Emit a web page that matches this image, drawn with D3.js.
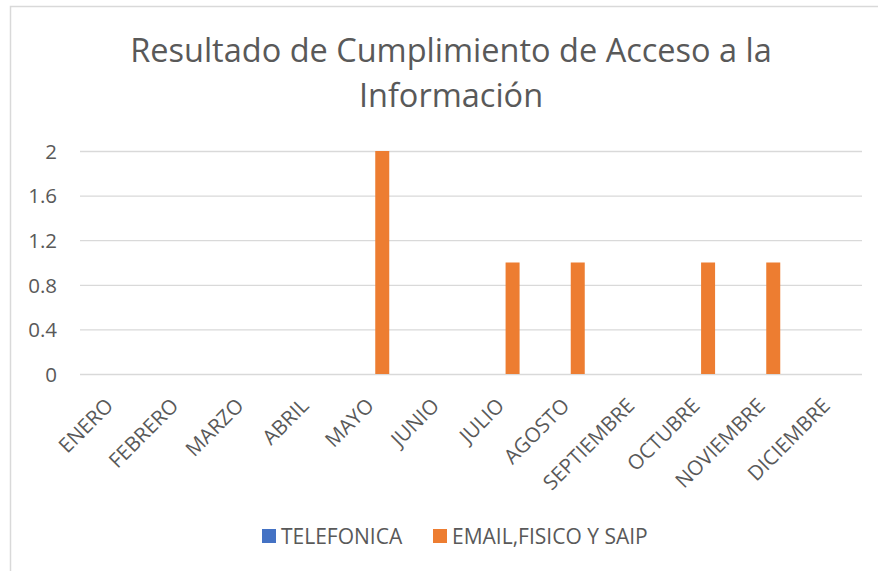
<!DOCTYPE html>
<html>
<head>
<meta charset="utf-8">
<script src="https://cdn.jsdelivr.net/npm/d3@7"></script>
<style>
  body { margin: 0; background: #fff; }
  text { font-family: "Open Sans", sans-serif; fill: #595959; }
</style>
</head>
<body>
<div id="chart"></div>
<script>
var months = ['ENERO', 'FEBRERO', 'MARZO', 'ABRIL', 'MAYO', 'JUNIO', 'JULIO',
              'AGOSTO', 'SEPTIEMBRE', 'OCTUBRE', 'NOVIEMBRE', 'DICIEMBRE']
var seriesNames = ['TELEFONICA', 'EMAIL,FISICO Y SAIP']
var telefonica = [0, 0, 0, 0, 0, 0, 0, 0, 0, 0, 0, 0]
var emailFisico = [0, 0, 0, 0, 2, 0, 1, 1, 0, 1, 1, 0]
var yTicks = [0, 0.4, 0.8, 1.2, 1.6, 2]
var titleLines = ['Resultado de Cumplimiento de Acceso a la', 'Información']

var width = 878, height = 571
var plot = {left: 80, right: 862, top: 151, bottom: 374}
var color = d3.scaleOrdinal().domain(seriesNames).range(['#4472C4', '#ED7D31'])

var svg = d3.select('#chart').append('svg')
  .attr('width', width)
  .attr('height', height)

// chart frame
svg.append('rect')
  .attr('x', 10.5).attr('y', 6.5)
  .attr('width', 900).attr('height', 600)
  .attr('fill', 'none')
  .attr('stroke', '#d9d9d9')
  .attr('stroke-width', 1.5)

svg.append('g').selectAll('text')
  .data(titleLines)
  .enter().append('text')
  .attr('x', 451)
  .attr('y', (d, i) => 62 + i * 45)
  .attr('text-anchor', 'middle')
  .style('font-size', '32.5px')
  .text(d => d)

var x0 = d3.scaleBand().domain(months).range([plot.left, plot.right])
var bw = x0.bandwidth()
var x1 = d3.scaleBand().domain(seriesNames).range([bw / 2 - 12, bw / 2 + 16])
var y = d3.scaleLinear().domain([0, 2]).range([plot.bottom, plot.top])

var yAxis = d3.axisLeft(y).tickValues(yTicks).tickSize(plot.left - plot.right)
  .tickFormat(d3.format('~g'))

svg.append('g')
  .attr('transform', 'translate(' + plot.left + ',0)')
  .call(yAxis)
  .call(g => g.select('.domain').remove())
  .call(g => g.selectAll('line').attr('stroke', '#d9d9d9').attr('stroke-width', 1.3))
  .call(g => g.selectAll('text').attr('x', -23).attr('dy', '0.36em')
    .style('font-size', '20.5px').attr('fill', '#595959'))

var xAxis = d3.axisBottom(x0).tickSize(0)
svg.append('g')
  .attr('transform', 'translate(0,' + plot.bottom + ')')
  .call(xAxis)
  .call(g => g.select('.domain').remove())
  .call(g => g.selectAll('text')
    .attr('y', 0).attr('dy', 0)
    .attr('transform', 'translate(2,33) rotate(-45)')
    .style('text-anchor', 'end')
    .style('font-size', '20.5px')
    .attr('fill', '#595959'))

var rows = months.map((m, i) => ({month: m, values: [telefonica[i], emailFisico[i]]}))

svg.append('g').selectAll('g')
  .data(rows)
  .enter().append('g')
  .attr('transform', d => 'translate(' + x0(d.month) + ',0)')
  .selectAll('rect')
  .data(d => d.values.map((v, i) => ({key: seriesNames[i], value: v})))
  .enter().append('rect')
  .attr('x', d => x1(d.key))
  .attr('width', x1.bandwidth())
  .attr('y', d => y(d.value))
  .attr('height', d => y(0) - y(d.value))
  .attr('fill', d => color(d.key))

var legend = svg.append('g').selectAll('g')
  .data(seriesNames)
  .enter().append('g')
  .attr('transform', (d, i) => 'translate(' + [262, 433][i] + ',529)')

legend.append('rect')
  .attr('width', 14).attr('height', 14)
  .attr('fill', d => color(d))

legend.append('text')
  .attr('x', 19).attr('y', 7).attr('dy', '0.36em')
  .style('font-size', '21px')
  .text(d => d)
</script>
</body>
</html>
